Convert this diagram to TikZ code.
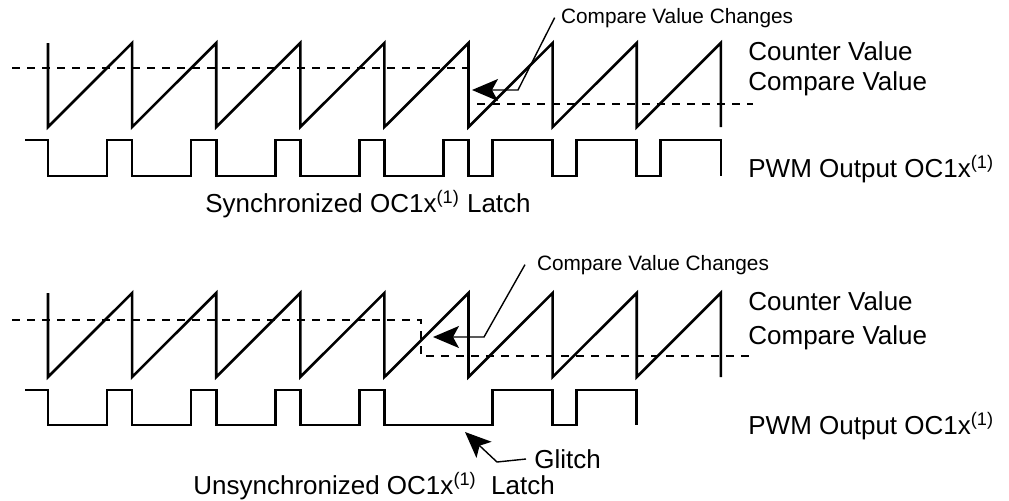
\documentclass[tikz,border=0pt]{standalone}
\usepackage{fontspec}
\setmainfont{Liberation Sans}
\usetikzlibrary{arrows.meta}
\tikzset{
  wave/.style={line width=1.3pt,line join=miter},
  cmpline/.style={line width=0.75pt,dash pattern=on 4pt off 3.5pt},
  leader/.style={line width=0.7pt,
                 -{Stealth[length=13pt,width=11pt,inset=3pt]}},
  siglabel/.style={anchor=base west,inner sep=0pt,
                   font=\fontsize{13}{15}\selectfont},
  notelabel/.style={anchor=base west,inner sep=3pt,
                    font=\fontsize{10.4}{12}\selectfont}
}

\begin{document}
\begin{tikzpicture}[x=0.5pt,y=-0.5pt]
    \path[use as bounding box] (0,0) rectangle (1009,500);

    % synchronized latch
    \draw[wave] (48,43) -- (48,127)
      \foreach \p in {132.1,216.2,300.3,384.4,468.5,552.6,636.7,720.8}
        { -- (\p,43) -- (\p,127)};
    \draw[cmpline] (12,68) -- (468,68);
    \draw[cmpline] (477,104) -- (753,104);
    \draw[wave] (25,140) -- (48,140) -- (48,176)
      \foreach \r/\f in {107/132.1,191.1/216.2,275.2/300.3,359.3/384.4,
                         443.4/468.5,492.5/552.6,576.6/636.7,660.7/720.8}
        { -- (\r,176) -- (\r,140) -- (\f,140) -- (\f,176)};

    \node[siglabel] (counterA) at (748,60.7) {Counter Value};
    \node[siglabel] (compareA) at (748,90.7) {Compare Value};
    \node[siglabel] (pwmA) at (748,177) {PWM Output OC1x\textsuperscript{(1)}};
    \node[siglabel] (syncA) at (205,212)
      {Synchronized OC1x\textsuperscript{(1)} Latch};

    \node[notelabel] (changeA) at (554.7,23) {Compare Value Changes};
    \coordinate (bendA) at (518,90);
    \coordinate (tipA) at (472,90);
    \draw[leader] (changeA.west) -- (bendA) -- (tipA);

    % unsynchronized latch
    \draw[wave] (48,293) -- (48,377)
      \foreach \p in {132.1,216.2,300.3,384.4,468.5,552.6,636.7,720.8}
        { -- (\p,293) -- (\p,377)};
    \draw[cmpline] (12,320) -- (421,320) -- (421,356) -- (753,356);
    \draw[wave] (25,390) -- (48,390) -- (48,425)
      \foreach \r/\f in {107/132.1,191.1/216.2,275.2/300.3,359.3/384.4,
                         492.5/552.6,576.6/636.7}
        { -- (\r,425) -- (\r,390) -- (\f,390) -- (\f,425)};

    \node[siglabel] (counterB) at (748,310.7) {Counter Value};
    \node[siglabel] (compareB) at (748,344) {Compare Value};
    \node[siglabel] (pwmB) at (748,434) {PWM Output OC1x\textsuperscript{(1)}};
    \node[siglabel] (syncB) at (193,494)
      {Unsynchronized OC1x\textsuperscript{(1)}\ \ Latch};

    \node[notelabel,outer sep=3pt] (changeB) at (525,270) {Compare Value Changes};
    \coordinate (bendB) at (484,337);
    \coordinate (tipB) at (433,337);
    \draw[leader] (changeB.west) -- (bendB) -- (tipB);

    \node[siglabel,inner sep=4pt] (glitch) at (526,468.3) {Glitch};
    \coordinate (bendC) at (497,462);
    \coordinate (tipC) at (465,432);
    \draw[leader] (glitch.west) -- (bendC) -- (tipC);
\end{tikzpicture}
\end{document}
